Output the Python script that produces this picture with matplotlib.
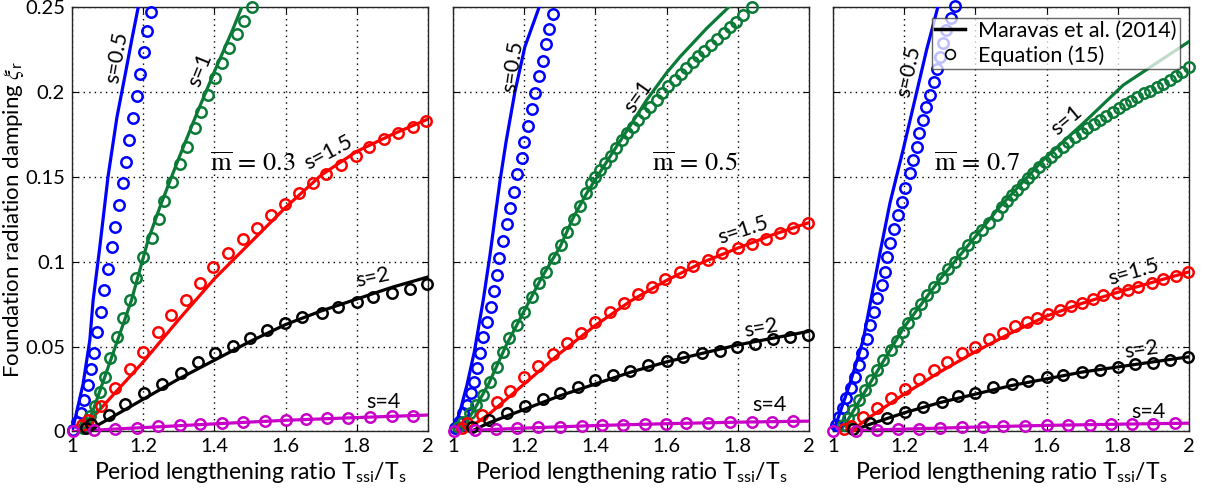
import numpy as np
import matplotlib
matplotlib.use("Agg")
import matplotlib.pyplot as plt
from matplotlib.lines import Line2D

plt.rcParams['font.family'] = ['Lato', 'DejaVu Sans']
plt.rcParams['mathtext.fontset'] = 'stix'

# ---- mass ratio m = 0.3 ----
m03_s05_line = ([1.0, 1.008, 1.031, 1.05, 1.059, 1.077, 1.101, 1.126, 1.15, 1.168, 1.186],
                [0.0, 0.007, 0.028, 0.054, 0.077, 0.107, 0.150, 0.185, 0.211, 0.231, 0.25])
m03_s05_eq = ([1.004, 1.015, 1.024, 1.034, 1.045, 1.054, 1.062, 1.071, 1.082, 1.091, 1.101, 1.111,
               1.121, 1.132, 1.142, 1.151, 1.161, 1.171, 1.182, 1.192, 1.201, 1.211, 1.222],
              [0.001, 0.0058, 0.0111, 0.0186, 0.0274, 0.0366, 0.046, 0.0588, 0.0706, 0.0833, 0.0957,
               0.1088, 0.1206, 0.1334, 0.1465, 0.159, 0.1717, 0.1844, 0.1978, 0.2105, 0.2233, 0.236, 0.2472])
m03_s1_line = ([1.035, 1.06, 1.1, 1.15, 1.167, 1.214, 1.25, 1.3, 1.35, 1.4, 1.45, 1.477],
               [0.0, 0.013, 0.037, 0.067, 0.0774, 0.113, 0.134, 0.161, 0.187, 0.212, 0.236, 0.25])
m03_s1_eq = ([1.03, 1.040, 1.050, 1.064, 1.078, 1.092, 1.106, 1.125, 1.143, 1.162, 1.180, 1.200, 1.224,
              1.244, 1.259, 1.280, 1.303, 1.324, 1.344, 1.361, 1.383, 1.402, 1.420, 1.442, 1.463, 1.483, 1.505],
             [0.002, 0.0048, 0.0091, 0.015, 0.0234, 0.0323, 0.0431, 0.0558, 0.0667, 0.0774, 0.0902, 0.1029,
              0.1138, 0.1251, 0.1359, 0.1471, 0.1575, 0.1677, 0.1786, 0.1883, 0.1982, 0.2080, 0.2168,
              0.2257, 0.2339, 0.2419, 0.2502])
m03_s15_line = ([1.03, 1.06, 1.1, 1.2, 1.3, 1.4, 1.5, 1.6, 1.7, 1.8, 1.9, 2.0],
                [0.0, 0.0087, 0.018, 0.041, 0.066, 0.09, 0.111, 0.132, 0.151, 0.165, 0.175, 0.184])
m03_s15_eq = ([1.028, 1.045, 1.082, 1.122, 1.162, 1.199, 1.242, 1.279, 1.321, 1.360, 1.397, 1.439, 1.479,
               1.519, 1.558, 1.598, 1.638, 1.676, 1.713, 1.755, 1.798, 1.835, 1.875, 1.917, 1.959, 1.995],
              [0.004, 0.0068, 0.015, 0.0254, 0.0366, 0.047, 0.0588, 0.0686, 0.0774, 0.0876, 0.0967, 0.1052,
               0.1132, 0.1200, 0.1275, 0.1340, 0.1403, 0.1465, 0.1516, 0.1570, 0.1623, 0.1677, 0.1721,
               0.1756, 0.1795, 0.183])
m03_s2_line = ([1.04, 1.1, 1.2, 1.3, 1.4, 1.5, 1.6, 1.7, 1.8, 1.9, 2.0],
               [0.0, 0.007, 0.019, 0.031, 0.042, 0.053, 0.063, 0.071, 0.078, 0.085, 0.091])
m03_s2_eq = ([1.04, 1.052, 1.103, 1.150, 1.202, 1.253, 1.305, 1.354, 1.402, 1.453, 1.500, 1.547, 1.598,
              1.645, 1.701, 1.748, 1.800, 1.846, 1.898, 1.949, 1.997],
             [0.002, 0.0044, 0.0097, 0.0162, 0.0225, 0.028, 0.0346, 0.0408, 0.0461, 0.0504, 0.0549, 0.0598,
              0.0641, 0.0672, 0.0700, 0.0735, 0.0761, 0.0790, 0.0814, 0.0840, 0.0869])
m03_s4_line = ([1.0, 1.1, 1.2, 1.4, 1.6, 1.8, 2.0],
               [0.0, 0.0012, 0.0023, 0.0045, 0.0066, 0.0082, 0.0097])
m03_s4_eq = ([1.003, 1.063, 1.121, 1.182, 1.242, 1.303, 1.360, 1.420, 1.481, 1.542, 1.601, 1.657, 1.715,
              1.776, 1.837, 1.898, 1.959],
             [0.0, 0.0006, 0.0013, 0.0021, 0.0031, 0.0039, 0.0046, 0.0052, 0.0058, 0.0063, 0.0068, 0.0073,
              0.0077, 0.0081, 0.0085, 0.0089, 0.0093])

# ---- mass ratio m = 0.5 ----
m05_s05_line = ([1.0, 1.02, 1.04, 1.06, 1.085, 1.104, 1.118, 1.132, 1.149, 1.174, 1.202, 1.244],
                [0.0, 0.012, 0.028, 0.047, 0.0774, 0.104, 0.126, 0.1475, 0.1705, 0.2001, 0.2266, 0.251])
m05_s05_eq = ([1.006, 1.018, 1.029, 1.038, 1.050, 1.059, 1.067, 1.076, 1.085, 1.096, 1.106, 1.115, 1.124,
               1.130, 1.141, 1.151, 1.160, 1.171, 1.181, 1.193, 1.199, 1.210, 1.221, 1.230, 1.242, 1.254,
               1.261, 1.271, 1.282],
              [0.0019, 0.0058, 0.0107, 0.0156, 0.0225, 0.0293, 0.0372, 0.0461, 0.0555, 0.0647, 0.0735, 0.0829,
               0.0922, 0.1020, 0.1124, 0.1222, 0.1315, 0.1412, 0.1517, 0.1609, 0.1707, 0.1799, 0.1898,
               0.1995, 0.2094, 0.2184, 0.2280, 0.2369, 0.2459])
m05_s1_line = ([1.02, 1.06, 1.1, 1.15, 1.2, 1.25, 1.301, 1.338, 1.3755, 1.45, 1.5, 1.544, 1.6, 1.638,
                1.713, 1.778],
               [0.0, 0.013, 0.028, 0.051, 0.071, 0.091, 0.1088, 0.126, 0.1403, 0.1648, 0.1808, 0.1952, 0.2112,
                0.2207, 0.2375, 0.2506])
m05_s1_eq = ([1.015, 1.029, 1.048, 1.065, 1.083, 1.104, 1.123, 1.141, 1.158, 1.179, 1.199, 1.221, 1.242,
              1.261, 1.284, 1.303, 1.319, 1.340, 1.358, 1.375, 1.387, 1.399, 1.413, 1.427, 1.443, 1.458,
              1.474, 1.488, 1.505, 1.521, 1.537, 1.553, 1.572, 1.586, 1.605, 1.624, 1.640, 1.656, 1.673,
              1.689, 1.705, 1.724, 1.742, 1.761, 1.778, 1.795, 1.815, 1.839],
             [0.0028, 0.0058, 0.0107, 0.0156, 0.0215, 0.0293, 0.0382, 0.0470, 0.0549, 0.0627, 0.0706, 0.0794,
              0.0873, 0.0941, 0.1020, 0.1098, 0.1177, 0.1250, 0.1330, 0.1405, 0.1462, 0.1501, 0.1540,
              0.1580, 0.1623, 0.1668, 0.1717, 0.1756, 0.1795, 0.1835, 0.1874, 0.1913, 0.1952, 0.1992,
              0.2035, 0.2070, 0.2105, 0.2139, 0.2178, 0.2211, 0.2243, 0.2276, 0.2310, 0.2345, 0.2380,
              0.2413, 0.2453, 0.2498])
m05_s15_line = ([1.03, 1.1, 1.2, 1.3, 1.4, 1.5, 1.6, 1.7, 1.8, 1.9, 2.0],
                [0.0, 0.01, 0.028, 0.046, 0.0625, 0.077, 0.089, 0.0995, 0.108, 0.116, 0.123])
m05_s15_eq = ([1.025, 1.038, 1.081, 1.123, 1.160, 1.199, 1.240, 1.280, 1.319, 1.359, 1.399, 1.441, 1.480,
               1.521, 1.558, 1.596, 1.638, 1.675, 1.717, 1.755, 1.801, 1.839, 1.880, 1.919, 1.956, 1.998],
              [0.002, 0.0048, 0.0097, 0.0172, 0.0240, 0.0319, 0.0386, 0.0456, 0.0523, 0.0582, 0.0647, 0.0706,
               0.0759, 0.0810, 0.0853, 0.0896, 0.0941, 0.0975, 0.1010, 0.1049, 0.1079, 0.1104, 0.1133,
               0.1167, 0.1197, 0.1230])
m05_s2_line = ([1.05, 1.1, 1.2, 1.3, 1.4, 1.5, 1.6, 1.7, 1.8, 1.9, 2.0],
               [0.0, 0.005, 0.013, 0.021, 0.028, 0.035, 0.041, 0.046, 0.051, 0.055, 0.059])
m05_s2_eq = ([1.053, 1.102, 1.151, 1.202, 1.254, 1.302, 1.352, 1.399, 1.450, 1.497, 1.549, 1.600, 1.647,
              1.699, 1.750, 1.797, 1.848, 1.900, 1.948, 1.998],
             [0.0028, 0.0068, 0.0111, 0.0150, 0.0190, 0.0225, 0.0264, 0.0303, 0.0333, 0.0358, 0.0392, 0.0417,
              0.0441, 0.0460, 0.0476, 0.0499, 0.0515, 0.0543, 0.0558, 0.0568])
m05_s4_line = ([1.0, 1.1, 1.2, 1.4, 1.6, 1.8, 2.0],
               [0.0, 0.0011, 0.002, 0.0035, 0.0046, 0.0055, 0.0061])
m05_s4_eq = ([1.003, 1.062, 1.121, 1.179, 1.240, 1.301, 1.362, 1.418, 1.478, 1.539, 1.598, 1.656, 1.717,
              1.778, 1.839, 1.895, 1.956],
             [0.0, 0.0009, 0.0013, 0.0019, 0.0025, 0.0028, 0.0032, 0.0036, 0.0039, 0.0042, 0.0046, 0.0049,
              0.0052, 0.0054, 0.0056, 0.0058, 0.0059])

# ---- mass ratio m = 0.7 ----
m07_s05_line = ([1.0, 1.006, 1.048, 1.085, 1.132, 1.160, 1.197, 1.230, 1.263, 1.296],
                [0.0, 0.0028, 0.0284, 0.0539, 0.105, 0.1344, 0.1658, 0.1952, 0.2247, 0.251])
m07_s05_eq = ([1.008, 1.018, 1.027, 1.038, 1.050, 1.062, 1.074, 1.083, 1.095, 1.104, 1.115, 1.124, 1.137,
               1.146, 1.153, 1.160, 1.171, 1.182, 1.193, 1.202, 1.216, 1.224, 1.235, 1.242, 1.254, 1.261,
               1.272, 1.285, 1.291, 1.301, 1.310, 1.319, 1.333, 1.343],
              [0.0038, 0.0087, 0.0137, 0.0196, 0.0254, 0.0319, 0.0392, 0.0464, 0.0543, 0.0627, 0.0706, 0.0784,
               0.0863, 0.0941, 0.1026, 0.1108, 0.1191, 0.1275, 0.1353, 0.1432, 0.1521, 0.1599, 0.1677,
               0.1756, 0.1835, 0.1909, 0.1982, 0.2060, 0.2133, 0.2207, 0.2286, 0.2365, 0.2433, 0.2506])
m07_s1_line = ([1.02, 1.05, 1.1, 1.2, 1.3, 1.4, 1.469, 1.591, 1.703, 1.816, 2.0],
               [0.0, 0.0095, 0.027, 0.0615, 0.0895, 0.1147, 0.1324, 0.160, 0.1815, 0.2041, 0.2296])
m07_s1_eq = ([1.029, 1.043, 1.057, 1.074, 1.090, 1.106, 1.123, 1.141, 1.162, 1.179, 1.196, 1.211, 1.230,
              1.246, 1.265, 1.284, 1.305, 1.324, 1.343, 1.362, 1.380, 1.399, 1.418, 1.439, 1.460, 1.474,
              1.488, 1.502, 1.518, 1.533, 1.549, 1.563, 1.580, 1.596, 1.612, 1.628, 1.645, 1.661, 1.680,
              1.699, 1.714, 1.733, 1.750, 1.767, 1.786, 1.803, 1.820, 1.837, 1.855, 1.874, 1.892, 1.909,
              1.928, 1.947, 1.965, 1.982, 2.0],
             [0.0038, 0.0078, 0.0127, 0.0186, 0.0244, 0.0303, 0.0362, 0.0421, 0.0480, 0.0535, 0.0588, 0.0641,
              0.0696, 0.0751, 0.0804, 0.0853, 0.0902, 0.0955, 0.1000, 0.1049, 0.1098, 0.1147, 0.1187,
              0.1230, 0.1275, 0.1324, 0.1359, 0.1393, 0.1422, 0.1458, 0.1491, 0.1521, 0.1556, 0.1589,
              0.1618, 0.1648, 0.1677, 0.1707, 0.1736, 0.1760, 0.1786, 0.1811, 0.1835, 0.1858, 0.1883,
              0.1903, 0.1929, 0.1948, 0.1968, 0.1992, 0.2007, 0.2027, 0.2047, 0.2070, 0.2094, 0.2119, 0.2145])
m07_s15_line = ([1.05, 1.1, 1.2, 1.3, 1.4, 1.5, 1.6, 1.7, 1.8, 1.9, 2.0],
                [0.0, 0.008, 0.022, 0.035, 0.047, 0.058, 0.068, 0.0755, 0.082, 0.088, 0.094])
m07_s15_eq = ([1.030, 1.052, 1.085, 1.123, 1.162, 1.202, 1.243, 1.284, 1.321, 1.362, 1.399, 1.439, 1.478,
               1.511, 1.544, 1.574, 1.605, 1.638, 1.670, 1.699, 1.731, 1.759, 1.797, 1.830, 1.858, 1.895,
               1.928, 1.965, 1.998],
              [0.0015, 0.0032, 0.0084, 0.0137, 0.0196, 0.0249, 0.0307, 0.0362, 0.0411, 0.0461, 0.0499, 0.0543,
               0.0581, 0.0621, 0.0647, 0.0667, 0.0692, 0.0716, 0.0739, 0.0759, 0.0779, 0.0804, 0.0818,
               0.0833, 0.0853, 0.0873, 0.0896, 0.0916, 0.0941])
m07_s2_line = ([1.05, 1.1, 1.2, 1.3, 1.4, 1.5, 1.6, 1.7, 1.8, 1.9, 2.0],
               [0.0, 0.004, 0.011, 0.017, 0.022, 0.027, 0.031, 0.035, 0.038, 0.041, 0.044])
m07_s2_eq = ([1.057, 1.104, 1.153, 1.202, 1.254, 1.305, 1.352, 1.399, 1.450, 1.502, 1.549, 1.600, 1.647,
              1.699, 1.750, 1.801, 1.848, 1.900, 1.947, 1.998],
             [0.0013, 0.0048, 0.0078, 0.0117, 0.0146, 0.0176, 0.0209, 0.0229, 0.0260, 0.0280, 0.0299, 0.0319,
              0.0333, 0.0352, 0.0362, 0.0378, 0.0398, 0.0405, 0.0421, 0.0437])
m07_s4_line = ([1.0, 1.1, 1.2, 1.4, 1.6, 1.8, 2.0],
               [0.0, 0.0008, 0.0014, 0.0026, 0.0036, 0.0043, 0.0049])
m07_s4_eq = ([1.001, 1.065, 1.124, 1.183, 1.242, 1.302, 1.362, 1.421, 1.478, 1.539, 1.600, 1.661, 1.722,
              1.780, 1.839, 1.900, 1.961],
             [0.0, 0.0005, 0.0009, 0.0013, 0.0017, 0.0021, 0.0024, 0.0027, 0.0030, 0.0033, 0.0036, 0.0038,
              0.0041, 0.0043, 0.0045, 0.0047, 0.0049])

mass_ratios = ["0.3", "0.5", "0.7"]
s_names = ["s=0.5", "s=1", "s=1.5", "s=2", "s=4"]
colors = ["#0000ff", "#0a7a36", "#ff0000", "#000000", "#c800c8"]

panel_lines = [
    [m03_s05_line, m03_s1_line, m03_s15_line, m03_s2_line, m03_s4_line],
    [m05_s05_line, m05_s1_line, m05_s15_line, m05_s2_line, m05_s4_line],
    [m07_s05_line, m07_s1_line, m07_s15_line, m07_s2_line, m07_s4_line],
]
panel_eqs = [
    [m03_s05_eq, m03_s1_eq, m03_s15_eq, m03_s2_eq, m03_s4_eq],
    [m05_s05_eq, m05_s1_eq, m05_s15_eq, m05_s2_eq, m05_s4_eq],
    [m07_s05_eq, m07_s1_eq, m07_s15_eq, m07_s2_eq, m07_s4_eq],
]

# curve label positions (x, y, rotation) for each panel
label_pos = [
    [(1.126, 0.2206, 80), (1.36, 0.2129, 68), (1.719, 0.1646, 28), (1.846, 0.0904, 12), (1.874, 0.0174, 0)],
    [(1.169, 0.2148, 82), (1.521, 0.1972, 55), (1.815, 0.1187, 18), (1.867, 0.0608, 10), (1.890, 0.0156, 0)],
    [(1.212, 0.2119, 78), (1.656, 0.1835, 40), (1.844, 0.0941, 16), (1.867, 0.0484, 8), (1.886, 0.0117, 0)],
]
mbar_pos = [(1.508, 0.1581), (1.680, 0.158), (1.404, 0.158)]

fig = plt.figure(figsize=(12.07, 4.97), dpi=100)
lefts = [0.0597, 0.3753, 0.6901]
axes = [fig.add_axes([l, 0.1318, 0.2949, 0.8541]) for l in lefts]

for k, ax in enumerate(axes):
    for i in range(5):
        lx, ly = panel_lines[k][i]
        ex, ey = panel_eqs[k][i]
        ax.plot(lx, ly, '-', color=colors[i], lw=2.3, zorder=3)
        ax.plot(ex, ey, 'o', mfc='none', mec=colors[i], ms=7.5, mew=1.8,
                clip_on=False, zorder=4)
        tx, ty, rot = label_pos[k][i]
        ax.text(tx, ty, s_names[i], fontsize=15.5, rotation=rot,
                ha='center', va='center', rotation_mode='anchor', zorder=5)
    mx, my = mbar_pos[k]
    ax.text(mx, my, r'$\overline{\mathrm{m}}\,=\,' + mass_ratios[k] + '$', fontsize=19,
            ha='center', va='center', zorder=5)

    ax.set_xlim(1, 2)
    ax.set_ylim(0, 0.25)
    ax.set_xticks([1, 1.2, 1.4, 1.6, 1.8, 2])
    ax.set_xticklabels(['1', '1.2', '1.4', '1.6', '1.8', '2'])
    ax.set_yticks([0, 0.05, 0.1, 0.15, 0.2, 0.25])
    if k == 0:
        ax.set_yticklabels(['0', '0.05', '0.1', '0.15', '0.2', '0.25'])
        ax.set_ylabel(r'Foundation radiation damping $\xi_\mathregular{r}$', fontsize=16)
        ax.yaxis.set_label_coords(-0.128, 0.5)
    else:
        ax.set_yticklabels([])
    ax.set_xlabel(r'Period lengthening ratio T$_\mathregular{ssi}$/T$_\mathregular{s}$', fontsize=16.5,
                  labelpad=3)
    ax.tick_params(direction='in', top=True, right=True, length=4, labelsize=14.5, pad=5)
    ax.grid(True, color='k', linestyle=(0, (1, 3)), linewidth=1)
    for sp in ax.spines.values():
        sp.set_color('0.15')
        sp.set_linewidth(1)

handles = [Line2D([], [], color='k', lw=2.5),
           Line2D([], [], color='k', marker='o', mfc='none', ls='none', ms=7, mew=1.2)]
leg = axes[2].legend(handles, ['Maravas et al. (2014)', 'Equation (15)'], loc='upper left',
                     bbox_to_anchor=(0.278, 0.975), fontsize=15.5, frameon=True, fancybox=False,
                     framealpha=0.75, edgecolor='0.2', borderpad=0.15, labelspacing=0.2,
                     handlelength=1.4, handletextpad=0.6, borderaxespad=0)
leg.get_frame().set_linewidth(1)
leg.set_zorder(10)

fig.savefig('out.png', dpi=100)
